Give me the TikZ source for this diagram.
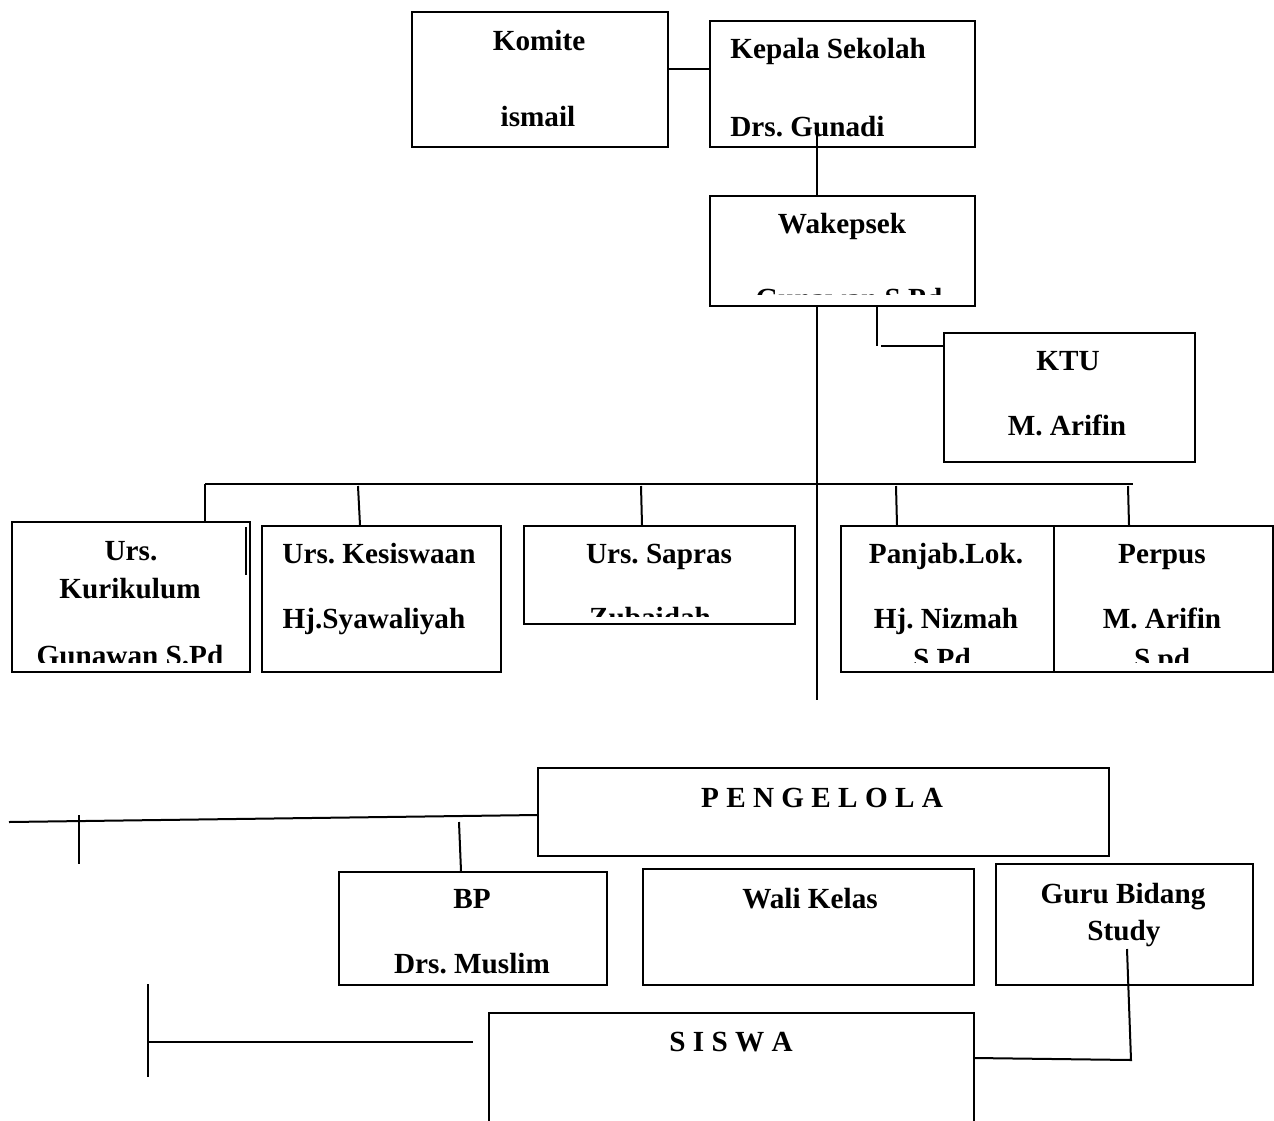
\documentclass[tikz,border=0pt]{standalone}
\usepackage{fontspec}
\setmainfont{Liberation Serif}
\usetikzlibrary{calc}
\frenchspacing

\tikzset{
  box/.style={draw,line width=1pt,anchor=north west,inner sep=0pt},
  lbl/.style={font=\fontsize{14.6}{17}\selectfont\bfseries,anchor=base,inner sep=0pt},
  link/.style={line width=1pt}
}

\begin{document}
\begin{tikzpicture}[x=0.5pt,y=-0.5pt]
\useasboundingbox (0,0) rectangle (1274,1120);
%\draw[help lines,step=50] (0,0) grid (1274,1120);

%TOP
\node[box,minimum width=128pt,minimum height=67.5pt] (komite) at (411,11) {};
\node[box,minimum width=132.5pt,minimum height=63pt] (kepsek) at (709,20) {};
\node[box,minimum width=132.5pt,minimum height=55pt] (wakasek) at (709,195) {};
\node[box,minimum width=125.5pt,minimum height=64.5pt] (ktu) at (943,332) {};

\node[lbl] (komite-1) at (539,50) {Komite};
\node[lbl] (komite-2) at (538,126) {ismail};
\node[lbl,anchor=base west] (kepsek-1) at (730,58) {Kepala Sekolah};
\node[lbl,anchor=base west] (kepsek-2) at (730,136) {Drs. Gunadi};
\node[lbl] (wakasek-1) at (842,233) {Wakepsek};
\begin{scope}
  \clip (wakasek.north west) rectangle ([yshift=6.5pt]wakasek.south east);
  \node[lbl] (wakasek-2) at (849,308) {Gunawan S.Pd};
\end{scope}
\node[lbl] (ktu-1) at (1068,370) {KTU};
\node[lbl] (ktu-2) at (1067,435) {M. Arifin};

%URUSAN
\node[box,minimum width=119pt,minimum height=75pt] (kurikulum) at (11,521) {};
\node[box,minimum width=119.5pt,minimum height=73pt] (kesiswaan) at (261,525) {};
\node[box,minimum width=135.5pt,minimum height=49pt] (sapras) at (523,525) {};
\node[box,minimum width=106.5pt,minimum height=73pt] (panjab) at (840,525) {};
\node[box,minimum width=109.5pt,minimum height=73pt] (perpus) at (1053,525) {};

\node[lbl] (kurikulum-1) at (131,560) {Urs.};
\node[lbl] (kurikulum-2) at (130,598) {Kurikulum};
\node[lbl] (kesiswaan-1) at (379,563) {Urs. Kesiswaan};
\node[lbl] (kesiswaan-2) at (374,628) {Hj.Syawaliyah};
\node[lbl] (sapras-1) at (659,563) {Urs. Sapras};
\node[lbl] (panjab-1) at (946,563) {Panjab.Lok.};
\node[lbl] (panjab-2) at (946,628) {Hj. Nizmah};
\node[lbl] (perpus-1) at (1162,563) {Perpus};
\node[lbl] (perpus-2) at (1162,628) {M. Arifin};
\begin{scope}
  \clip (kurikulum.north west) rectangle ([yshift=5.5pt]kurikulum.south east);
  \node[lbl] (kurikulum-3) at (130,665) {Gunawan S.Pd};
\end{scope}
\begin{scope}
  \clip (sapras.north west) rectangle ([yshift=4.5pt]sapras.south east);
  \node[lbl] (sapras-2) at (650,627) {Zubaidah};
\end{scope}
\begin{scope}
  \clip (panjab.north west) rectangle ([yshift=5.5pt]perpus.south east);
  \node[lbl] (panjab-3) at (942,668) {S.Pd};
  \node[lbl] (perpus-3) at (1162,668) {S.pd};
\end{scope}

%PENGELOLA
\node[box,minimum width=285.5pt,minimum height=44pt] (pengelola) at (537,767) {};
\node[box,minimum width=134pt,minimum height=56.5pt] (bp) at (338,871) {};
\node[box,minimum width=165.5pt,minimum height=58pt] (walikelas) at (642,868) {};
\node[box,minimum width=128.5pt,minimum height=60.5pt] (guru) at (995,863) {};
\node[box,minimum width=242.5pt,minimum height=57.5pt] (siswa) at (488,1012) {};

\node[lbl] (pengelola-1) at (822,807) {P E N G E L O L A};
\node[lbl] (bp-1) at (472,908) {BP};
\node[lbl] (bp-2) at (472,973) {Drs. Muslim};
\node[lbl] (walikelas-1) at (810,908) {Wali Kelas};
\node[lbl] (guru-1) at (1123,903) {Guru Bidang};
\node[lbl] (guru-2) at (1124,940) {Study};
\node[lbl] (siswa-1) at (731,1051) {S I S W A};

%LINES
\draw[link] (komite.east |- 0,69) -- (kepsek.west |- 0,69);
\draw[link] (817,135) -- (wakasek.north -| 817,0);
\draw[link] (wakasek.south -| 817,0) -- (817,700);
\draw[link] (wakasek.south -| 877,0) -- (877,346);
\draw[link] (881,346) -- (ktu.west |- 0,346);

\coordinate (busL) at (205,484);
\coordinate (busR) at (1133,484);
\draw[link] (busL) -- (busR);
\draw[link] (busL) -- (kurikulum.north -| busL);
\draw[link] (358,486) -- (kesiswaan.north -| 360,0);
\draw[link] (641,486) -- (sapras.north -| 642,0);
\draw[link] (896,486) -- (panjab.north -| 897,0);
\draw[link] (1128,486) -- (perpus.north -| 1129,0);
\draw[link] (246,527) -- (246,575);

\draw[link] (9,822) -- (pengelola.west |- 0,815);
\draw[link] (79,815) -- (79,864);
\draw[link] (459,822) -- (bp.north -| 461,0);
\draw[link] (1127,949) -- (1131,1060) -- (siswa.east |- 0,1058);
\draw[link] (148,1042) -- (473,1042);
\draw[link] (148,984) -- (148,1077);

\end{tikzpicture}
\end{document}
